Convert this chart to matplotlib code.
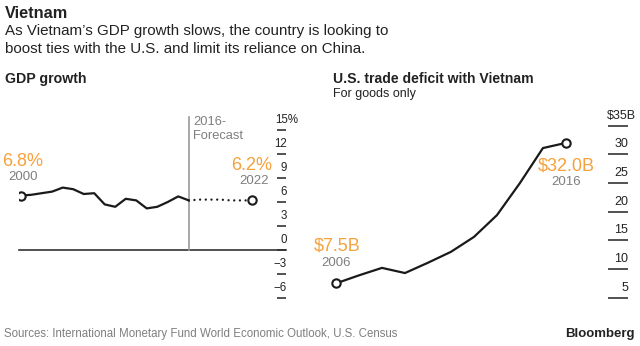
import matplotlib.pyplot as plt
from matplotlib import transforms

plt.rcParams['font.family'] = ['Liberation Sans', 'DejaVu Sans']

# GDP growth, %
gdp_years = [2000, 2001, 2002, 2003, 2004, 2005, 2006, 2007, 2008,
             2009, 2010, 2011, 2012, 2013, 2014, 2015, 2016]
gdp_values = [6.8, 6.9, 7.1, 7.3, 7.8, 7.6, 7.0, 7.1, 5.7,
              5.4, 6.4, 6.2, 5.2, 5.4, 6.0, 6.7, 6.2]
fc_years = [2016, 2017, 2018, 2019, 2020, 2021, 2022]
fc_values = [6.2, 6.3, 6.3, 6.3, 6.2, 6.2, 6.2]
gdp_ticks = [-6, -3, 0, 3, 6, 9, 12, 15]
gdp_tick_labels = ['−6', '−3', '0', '3', '6', '9', '12', '15%']

# U.S. trade deficit with Vietnam, $B
trade_years = [2006, 2007, 2008, 2009, 2010, 2011, 2012, 2013, 2014, 2015, 2016]
trade_values = [7.5, 8.9, 10.2, 9.3, 11.1, 13.0, 15.6, 19.4, 25.0, 31.1, 32.0]
trade_ticks = [5, 10, 15, 20, 25, 30, 35]
trade_tick_labels = ['5', '10', '15', '20', '25', '30', '$35B']

ORANGE = '#F7A13B'
GREY = '#7f7f7f'
LINE = '#1a1a1a'
W, H = 640, 346


def px_axes(left, right, top, bottom):
    return fig.add_axes([left / W, 1 - bottom / H, (right - left) / W, (bottom - top) / H])


def ftext(x, y, s, **kw):
    fig.text(x / W, 1 - y / H, s, va='center', **kw)


fig = plt.figure(figsize=(6.4, 3.46), dpi=100)

ftext(5, 13, 'Vietnam', fontsize=11.7, fontweight='bold', color='#222')
ftext(5, 31, "As Vietnam’s GDP growth slows, the country is looking to", fontsize=10.9, color='#222')
ftext(5, 49, 'boost ties with the U.S. and limit its reliance on China.', fontsize=10.9, color='#222')
ftext(5, 79, 'GDP growth', fontsize=10.2, fontweight='bold', color='#222')
ftext(333, 79, 'U.S. trade deficit with Vietnam', fontsize=10.1, fontweight='bold', color='#222')
ftext(333, 94, 'For goods only', fontsize=9, color='#222')
ftext(4, 334, 'Sources: International Monetary Fund World Economic Outlook, U.S. Census',
      fontsize=8.3, color=GREY)
ftext(635, 334, 'Bloomberg', fontsize=9.5, fontweight='bold', color='#222', ha='right')


def style_axis(ax, ticks, labels, tick_len, label_x, ylim, size):
    ax.set_ylim(*ylim)
    for s in ax.spines.values():
        s.set_visible(False)
    ax.set_xticks([])
    ax.set_yticks(ticks)
    ax.yaxis.tick_right()
    ax.tick_params(axis='y', direction='out', length=tick_len, width=1.2,
                   color='#333', labelright=False)
    trans = transforms.offset_copy(ax.get_yaxis_transform(), fig=fig, x=0, y=4, units='dots')
    for v, lab in zip(ticks, labels):
        if lab.endswith('%') or lab.endswith('B'):
            ax.text(label_x[1], v, lab, transform=trans, ha='left', va='bottom',
                    fontsize=size, color='#222')
        else:
            ax.text(label_x[0], v, lab, transform=trans, ha='right', va='bottom',
                    fontsize=size, color='#222')


# Left: GDP growth
ax1 = px_axes(19, 277, 130, 298)
ax1.set_xlim(1999.84, 2024.4)
style_axis(ax1, gdp_ticks, gdp_tick_labels, 6.5, ((287 - 19) / 258, (275 - 19) / 258), (-6, 15), 8.3)
ax1.axhline(0, xmin=0, xmax=(286 - 19) / 258, color='#333', lw=1.2, clip_on=False)
ax1.plot([2016, 2016], [0, 16.6], color='#9a9a9a', lw=1.2, clip_on=False)
ax1.text(2016.4, 16.8, '2016-\nForecast', fontsize=9.3, color=GREY, va='top', linespacing=1.25)
ax1.plot(gdp_years, gdp_values, color=LINE, lw=1.6, solid_joinstyle='round')
ax1.plot(fc_years, fc_values, color=LINE, lw=1.7, linestyle=(0, (0.01, 2.4)), dash_capstyle='round')
ax1.plot([gdp_years[0], fc_years[-1]], [gdp_values[0], fc_values[-1]], 'o', ms=6,
         mfc='white', mec=LINE, mew=1.5, ls='none', zorder=5)
ax1.annotate('6.8%', (gdp_years[0], 6.8), xytext=(2, 34), textcoords='offset pixels',
             ha='center', va='center', fontsize=13, color=ORANGE)
ax1.annotate('2000', (gdp_years[0], 6.8), xytext=(2, 19), textcoords='offset pixels',
             ha='center', va='center', fontsize=9.5, color=GREY)
ax1.annotate('6.2%', (fc_years[-1], 6.2), xytext=(0, 35), textcoords='offset pixels',
             ha='center', va='center', fontsize=13, color=ORANGE)
ax1.annotate('2022', (fc_years[-1], 6.2), xytext=(2, 19), textcoords='offset pixels',
             ha='center', va='center', fontsize=9.5, color=GREY)

# Right: trade deficit
ax2 = px_axes(313, 608, 125.7, 297.7)
ax2.set_xlim(2005, 2017.83)
style_axis(ax2, trade_ticks, trade_tick_labels, 14.4, ((628 - 313) / 295, (607 - 313) / 295), (5, 35), 9)
ax2.plot(trade_years, trade_values, color=LINE, lw=1.6, solid_joinstyle='round')
ax2.plot([trade_years[0], trade_years[-1]], [trade_values[0], trade_values[-1]], 'o', ms=6,
         mfc='white', mec=LINE, mew=1.5, ls='none', zorder=5)
ax2.annotate('$7.5B', (trade_years[0], 7.5), xytext=(1, 37), textcoords='offset pixels',
             ha='center', va='center', fontsize=13, color=ORANGE)
ax2.annotate('2006', (trade_years[0], 7.5), xytext=(0, 20), textcoords='offset pixels',
             ha='center', va='center', fontsize=9.5, color=GREY)
ax2.annotate('$32.0B', (trade_years[-1], 32.0), xytext=(0, -23), textcoords='offset pixels',
             ha='center', va='center', fontsize=13, color=ORANGE)
ax2.annotate('2016', (trade_years[-1], 32.0), xytext=(0, -39), textcoords='offset pixels',
             ha='center', va='center', fontsize=9.5, color=GREY)

fig.savefig('out.png', dpi=100, facecolor='white')
